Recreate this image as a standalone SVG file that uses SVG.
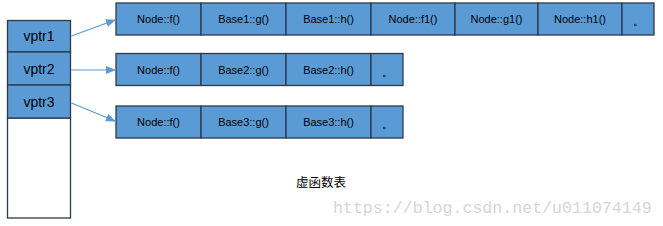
<svg xmlns="http://www.w3.org/2000/svg" width="663" height="226" viewBox="0 0 663 226">
<style>
.c{fill:#5b9bd5;stroke:#2e3a48;stroke-width:1.3}
.w{fill:#ffffff;stroke:#2e3a48;stroke-width:1.3}
.t{font-family:"Liberation Sans",Arial,sans-serif;font-size:11px;fill:#000;text-anchor:middle}
.v{font-family:"Liberation Sans",Arial,sans-serif;font-size:14px;fill:#000;text-anchor:middle}
.a{stroke:#5b9bd5;stroke-width:1.2;fill:none}
</style>
<defs>
<marker id="ah" markerWidth="10" markerHeight="8" refX="9" refY="4" orient="auto" markerUnits="userSpaceOnUse">
<path d="M0,0 L10,4 L0,8 Z" fill="#5b9bd5"/>
</marker>
</defs>
<g id="stack">
<rect class="w" x="7.5" y="118" width="63" height="100"/>
<g id="vptr1"><rect class="c" x="7.5" y="20.5" width="63" height="31.5"/><text class="v" x="39" y="41">vptr1</text></g>
<g id="vptr2"><rect class="c" x="7.5" y="52" width="63" height="33"/><text class="v" x="39" y="74">vptr2</text></g>
<g id="vptr3"><rect class="c" x="7.5" y="85" width="63" height="33"/><text class="v" x="39" y="107">vptr3</text></g>
</g>
<g id="table1">
<rect class="c" x="116" y="3" width="85" height="32"/><text class="t" x="158.5" y="23">Node::f()</text>
<rect class="c" x="201" y="3" width="85" height="32"/><text class="t" x="243.5" y="23">Base1::g()</text>
<rect class="c" x="286" y="3" width="85" height="32"/><text class="t" x="328.5" y="23">Base1::h()</text>
<rect class="c" x="371" y="3" width="84" height="32"/><text class="t" x="413" y="23">Node::f1()</text>
<rect class="c" x="455" y="3" width="83" height="32"/><text class="t" x="496.5" y="23">Node::g1()</text>
<rect class="c" x="538" y="3" width="84" height="32"/><text class="t" x="580" y="23">Node::h1()</text>
<rect class="c" x="622" y="3" width="32" height="32"/><text class="t" x="638" y="25">。</text>
</g>
<g id="table2">
<rect class="c" x="116" y="53.5" width="85" height="32"/><text class="t" x="158.5" y="73.5">Node::f()</text>
<rect class="c" x="201" y="53.5" width="85" height="32"/><text class="t" x="243.5" y="73.5">Base2::g()</text>
<rect class="c" x="286" y="53.5" width="85" height="32"/><text class="t" x="328.5" y="73.5">Base2::h()</text>
<rect class="c" x="371" y="53.5" width="32" height="32"/><text class="t" x="387" y="75.5">。</text>
</g>
<g id="table3">
<rect class="c" x="116" y="106" width="85" height="32"/><text class="t" x="158.5" y="126">Node::f()</text>
<rect class="c" x="201" y="106" width="85" height="32"/><text class="t" x="243.5" y="126">Base3::g()</text>
<rect class="c" x="286" y="106" width="85" height="32"/><text class="t" x="328.5" y="126">Base3::h()</text>
<rect class="c" x="371" y="106" width="32" height="32"/><text class="t" x="387" y="128">。</text>
</g>
<g id="connectors">
<line class="a" x1="71.5" y1="36" x2="115" y2="20" marker-end="url(#ah)"/>
<line class="a" x1="71.5" y1="70" x2="115" y2="70" marker-end="url(#ah)"/>
<line class="a" x1="71.5" y1="103" x2="115" y2="121" marker-end="url(#ah)"/>
</g>
<text x="296" y="187" font-family="'Noto Sans CJK SC',sans-serif" font-size="12.5" fill="#000">虚函数表</text>
<text x="333" y="213" font-family="'Liberation Mono',monospace" font-size="16.6" fill="#d6d6d6">https://blog.csdn.net/u011074149</text>
</svg>
